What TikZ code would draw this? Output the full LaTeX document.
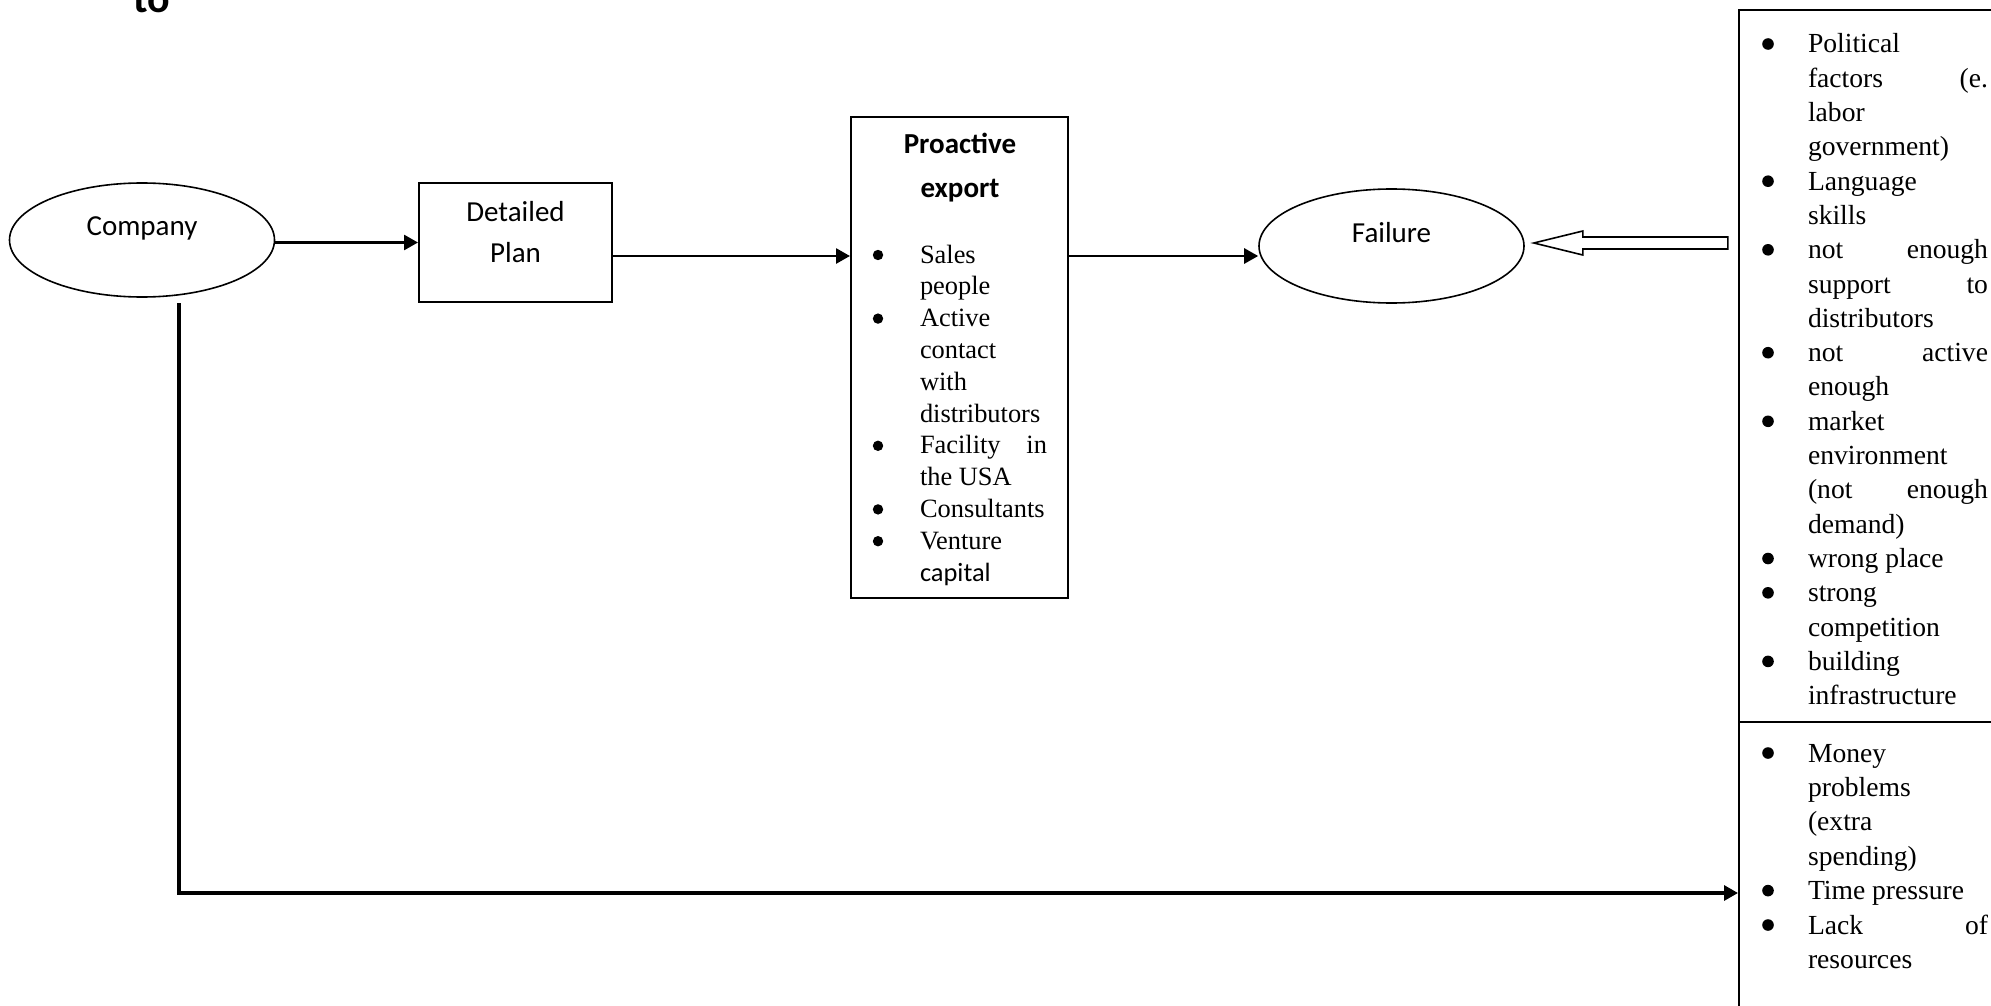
\documentclass[tikz,border=0pt]{standalone}
\usepackage{fontspec}
\setmainfont{Liberation Serif}
\newfontfamily\sansfnt{Carlito}
\usetikzlibrary{arrows.meta,shapes.geometric}
\begin{document}
\begin{tikzpicture}[x=0.5pt,y=-0.5pt,
  boxnode/.style={draw,line width=1pt,inner sep=0pt},
  ellnode/.style={ellipse,draw,line width=0.8pt,minimum width=132.5pt,minimum height=57pt,inner sep=0pt,font=\sansfnt\fontsize{14.5}{17}\selectfont},
  conn/.style={line width=1.35pt,-{Triangle[length=7pt,width=7.5pt]}},
  txt/.style={inner sep=0pt,outer sep=0pt},
  sanstxt/.style={txt,font=\sansfnt\fontsize{14.5}{20.5}\selectfont},
  serifA/.style={txt,font=\fontsize{13.2}{15.9}\selectfont},
  serifB/.style={txt,font=\fontsize{13.8}{17.15}\selectfont}
]
\useasboundingbox (0,0) rectangle (1991,1006);

% heading remnant
\node[txt,anchor=base west,font=\sansfnt\bfseries\fontsize{21}{25}\selectfont] (heading) at (133,13) {to};

% nodes
\node[ellnode,text height=10pt,text depth=15pt] (company) at (142,240) {Company};
\node[boxnode,minimum width=96.5pt,minimum height=59.5pt] (plan) at (515.5,242.5) {};
\node[sanstxt,anchor=base] (plantxt) at (515.5,221) {\parbox[t]{90pt}{\centering Detailed\\Plan}};

\node[boxnode,minimum width=108.5pt,minimum height=240.5pt] (proact) at (959.5,357.5) {};
\node[txt,anchor=base,font=\sansfnt\bfseries\fontsize{14.5}{21.5}\selectfont] (ptitle) at (960,154) {\parbox[t]{100pt}{\centering Proactive\\export}};
\node[serifA,anchor=base west] (plist) at (920,263) {\parbox[t]{63.5pt}{Sales\\people\\Active\\contact\\with\\distributors\\Facility\hfill in\\the USA\\Consultants\\Venture\\{\sansfnt capital}}};
\foreach \k in {0,2,6,8,9} \fill (878,{255+\k*31.8}) circle (2.6pt);

\node[ellnode,text height=10pt,text depth=14pt] (fail) at (1391.5,246) {Failure};

\node[boxnode,minimum width=136pt,minimum height=356pt] (rtop) at (1875,366) {};
\node[boxnode,minimum width=136pt,minimum height=149pt] (rbot) at (1875,871) {};

\node[serifB,anchor=base west] (rtoplist) at (1808,53) {\parbox[t]{90pt}{Political\\factors\hfill(e.\\labor\\government)\\Language\\skills\\not\hfill enough\\support\hfill to\\distributors\\not\hfill active\\enough\\market\\environment\\(not\hfill enough\\demand)\\wrong place\\strong\\competition\\building\\infrastructure}};
\foreach \k in {0,4,6,9,11,15,16,18} \fill (1768,{44+\k*34.3}) circle (2.9pt);

\node[txt,font=\fontsize{13.8}{17.2}\selectfont,anchor=base west] (rbotlist) at (1808,762) {\parbox[t]{90pt}{Money\\problems\\(extra\\spending)\\Time pressure\\Lack\hfill of\\resources}};
\foreach \k in {0,4,5} \fill (1768,{753+\k*34.4}) circle (2.9pt);

% connectors
\draw[conn] (company.east |- plan.west) -- (plan.west);
\coordinate (p2) at ([yshift=-6.75pt]plan.east);
\draw[conn] (p2) -- (p2 -| proact.west);
\coordinate (p3) at ([yshift=-5pt]fail.west);
\draw[conn] (p3 -| proact.east) -- (p3);
\coordinate (lstart) at (179,303);
\coordinate (p4) at ([yshift=-11pt]rbot.west);
\draw[conn,line width=1.6pt] (lstart) |- (p4);

% hollow arrow from the factor list to Failure
\coordinate (htip) at ([xshift=4.5pt,yshift=1.5pt]fail.east);
\draw[line width=0.8pt,fill=white] (htip) -- ++(49,-12) -- ++(0,6) -- ++(145,0) -- ++(0,12) -- ++(-145,0) -- ++(0,6) -- cycle;
\end{tikzpicture}
\end{document}
